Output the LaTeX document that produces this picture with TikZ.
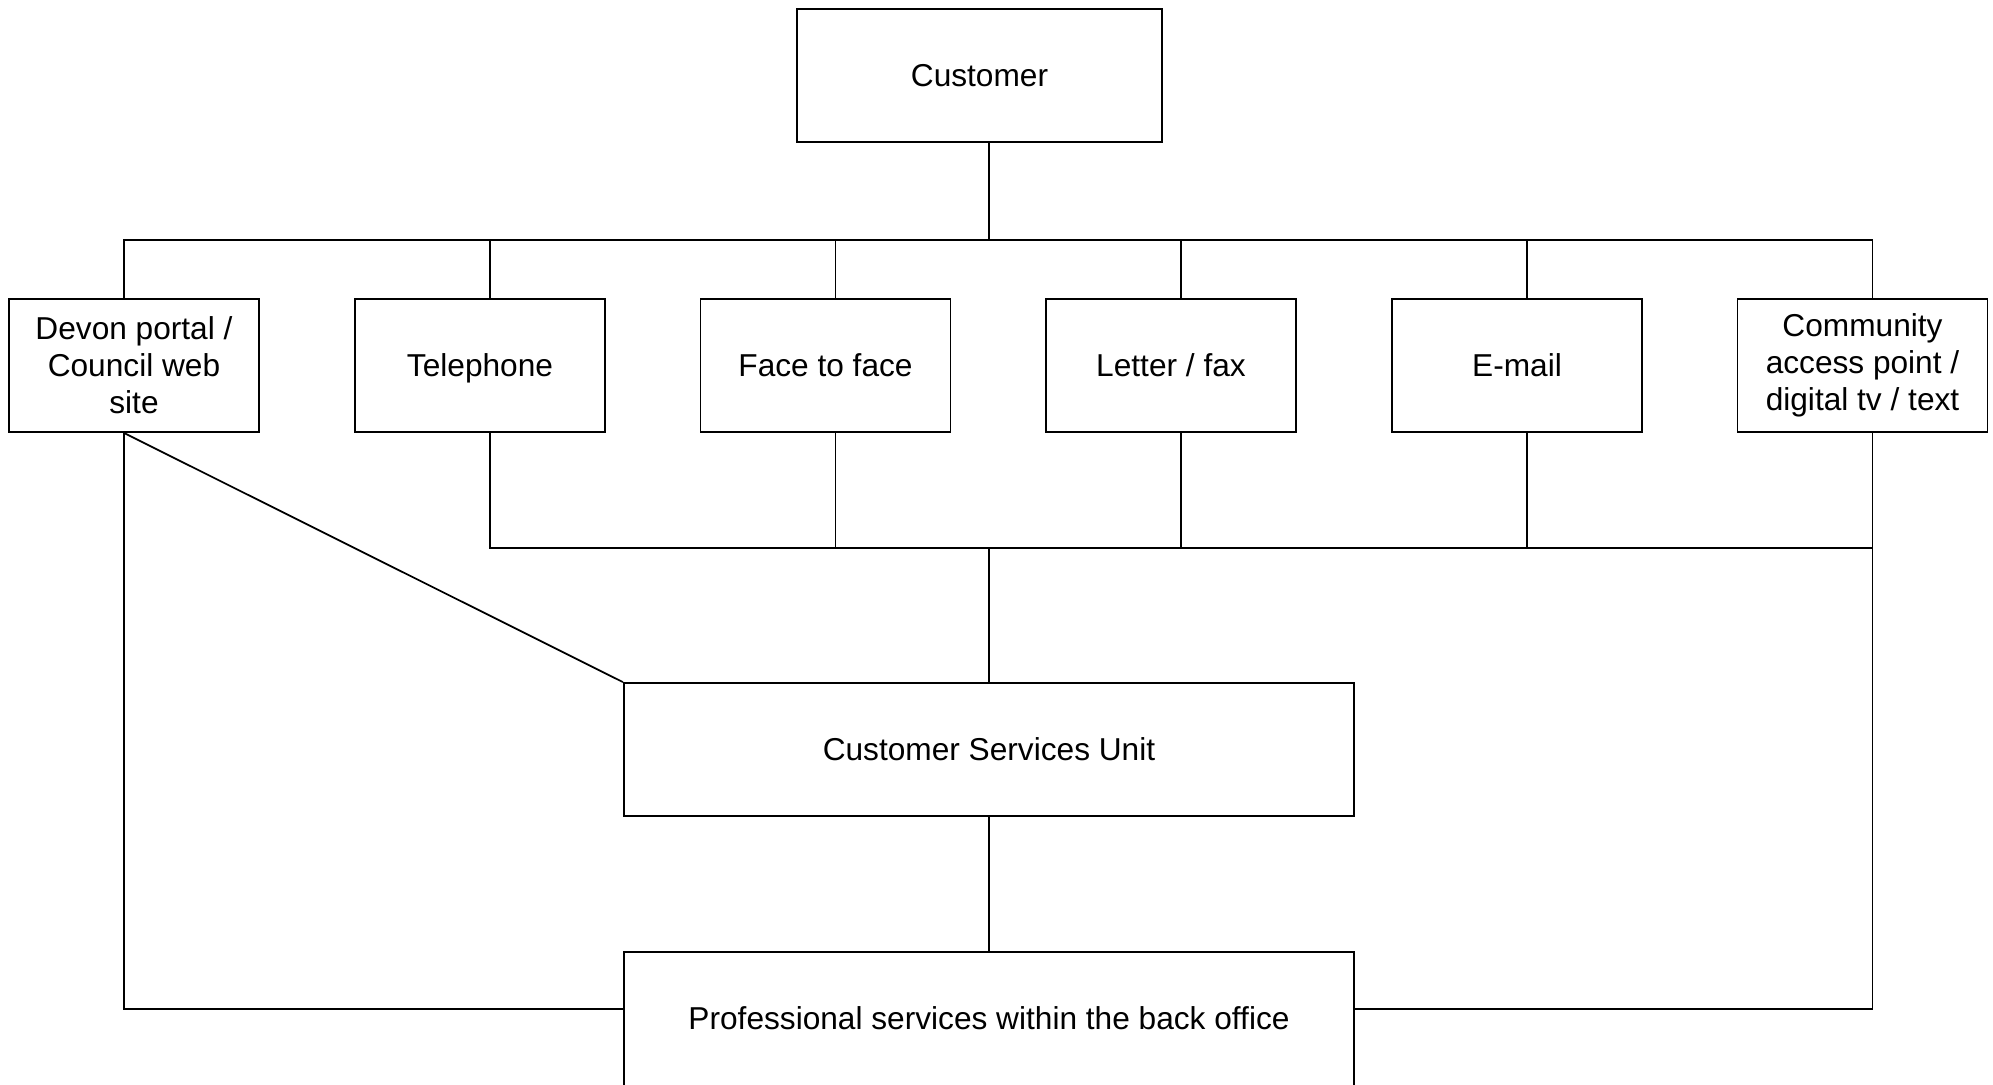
\documentclass[tikz,border=0pt]{standalone}
\usepackage{fontspec}
\setmainfont{Liberation Sans}
\begin{document}
\begin{tikzpicture}[x=0.01cm, y=-0.01cm, line width=0.5pt, font=\fontsize{9}{10.5}\selectfont,
    box/.style={rectangle, draw, align=center, inner sep=0pt},
    oneline/.style={text height=6.5pt, text depth=0pt},
    channel/.style={box, minimum width=2.5cm, minimum height=1.33cm},
    wide/.style={box, oneline, minimum width=7.3cm, minimum height=1.33cm}]
    \useasboundingbox (0,0) rectangle (1993,1084);
    \node[box, oneline, minimum width=3.65cm, minimum height=1.33cm] (cust) at (979.5,75.5) {Customer};
    \node[channel]          (devon)  at (134,365.5)    {Devon portal /\\Council web\\site};
    \node[channel, oneline] (tel)    at (480,365.5)    {Telephone};
    \node[channel, oneline] (face)   at (825.5,365.5)  {Face to face};
    \node[channel, oneline] (letter) at (1171,365.5)   {Letter / fax};
    \node[channel, oneline] (email)  at (1517,365.5)   {E-mail};
    \node[channel]          (comm)   at (1862.5,365.5) {Community\\access point /\\digital tv / text};
    \node[wide] (csu) at (989,749.5) {Customer Services Unit};
    \node[wide, anchor=north, minimum height=1.38cm, text height=5pt] (prof) at (989,951) {Professional services within the back office};
    \coordinate (upper) at (989,240);
    \coordinate (lower) at (989,548);
    % customer to the channels
    \draw (cust.south -| upper) -- (upper);
    \draw ([xshift=-1mm]devon.north) |- (upper);
    \foreach \n in {tel, face, letter, email, comm}
        \draw ([xshift=1mm]\n.north) |- (upper);
    % channels to the unit
    \foreach \n in {tel, face, letter, email, comm}
        \draw ([xshift=1mm]\n.south) |- (lower);
    \draw (lower) -- (csu.north);
    \draw ([xshift=-1mm]devon.south) -- (csu.north west);
    \draw (csu.south) -- (prof.north);
    % direct routes to the back office
    \draw ([xshift=-1mm]devon.south) |- ([yshift=1.2mm]prof.west);
    \draw ([xshift=1mm]comm.south) |- ([yshift=1.2mm]prof.east);
\end{tikzpicture}
\end{document}
